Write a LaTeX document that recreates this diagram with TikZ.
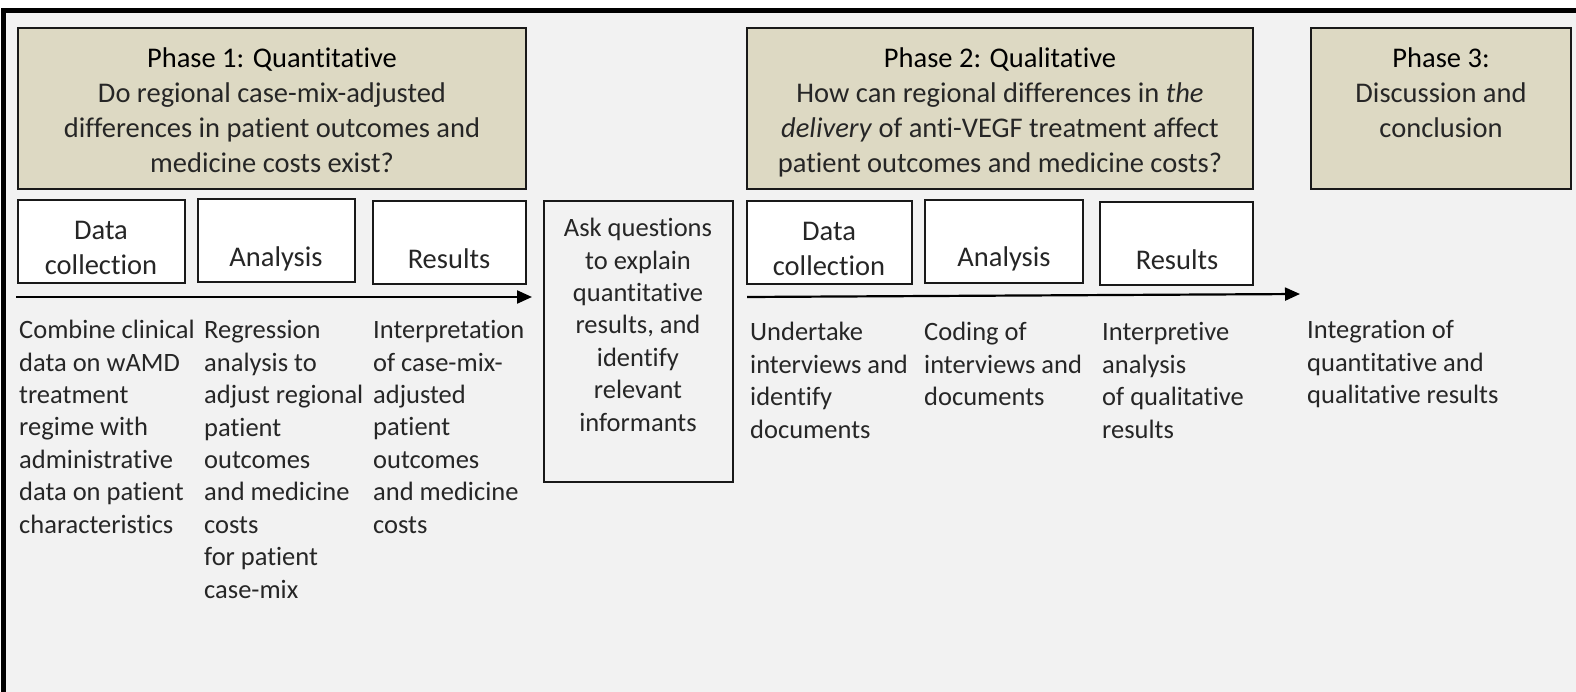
\documentclass[tikz,border=0pt]{standalone}
\usepackage{fontspec}
\setmainfont{Carlito}[Ligatures={NoCommon,NoContextual}]
\usetikzlibrary{arrows.meta,positioning}
\definecolor{paper}{HTML}{F2F2F2}
\definecolor{tanbox}{HTML}{DDD9C3}
\colorlet{myink}{black!85}
\newcommand\bodysize{\fontsize{26.5}{32.4}\selectfont}
\newcommand\headsize{\fontsize{28.5}{35}\selectfont}

\begin{document}
\begin{tikzpicture}[
    x=1pt, y=-1pt,
    box/.style 2 args={anchor=north west, inner sep=0, outer sep=0,
      minimum width=#1, minimum height=#2, line width=1.8pt, draw=black!90},
    phase/.style 2 args={box={#1}{#2}, fill=tanbox},
    stepbox/.style 2 args={box={#1}{#2}, fill=white},
    % multi-line texts sit on the baseline of their last line
    head/.style={anchor=base, align=center, inner sep=0, font=\headsize, text=black},
    note/.style={anchor=base west, align=left, inner sep=0, font=\bodysize, text=myink},
    flow/.style={line width=2.2pt, -{Triangle[length=15pt,width=13pt]}},
  ]

  % ------------------------------------------------------------------ frame
  \clip (0,0) rectangle (1576,692);
  \fill[white] (0,0) rectangle (1576,692);
  \draw[line width=5pt, fill=paper] (3.7,10.5) rectangle (1610,730);

  % ------------------------------------------------------------------ phase boxes
  \node[phase={508}{161}] (p1) at (18,28) {};
  \node[phase={506}{161}] (p2) at (747,28) {};
  \node[phase={260}{161}] (p3) at (1311,28) {};

  \node[head] (p1-txt) at (272,173) {Phase 1: Quantitative\\
    \color{myink}Do regional case-mix-adjusted\\
    \color{myink}differences in patient outcomes and\\
    \color{myink}medicine costs exist?};
  \node[head] (p2-txt) at (1000,173) {Phase 2: Qualitative\\
    \color{myink}How can regional differences in \textit{the}\\
    \color{myink}\textit{delivery} of anti-VEGF treatment affect\\
    \color{myink}patient outcomes and medicine costs?};
  \node[head] (p3-txt) at (1441,138) {Phase 3:\\
    \color{myink}Discussion and\\
    \color{myink}conclusion};

  % ------------------------------------------------------------------ step boxes
  \node[stepbox={167}{83}] (dc1) at (18,200) {};
  \node[stepbox={157}{83}] (an1) at (198,199) {};
  \node[stepbox={153}{83}] (re1) at (373,201) {};
  \node[box={189}{281}]    (ask) at (544,201) {};
  \node[stepbox={165}{83}] (dc2) at (747,201) {};
  \node[stepbox={158}{83}] (an2) at (925,200) {};
  \node[stepbox={153}{83}] (re2) at (1100,202) {};

  \node[head, text=myink] (dc1-txt) at (101,275) {Data\\collection};
  \node[head, text=myink] (an1-txt) at (276,267) {Analysis};
  \node[head, text=myink] (re1-txt) at (449,269) {Results};
  \node[head, text=myink] (dc2-txt) at (829,276) {Data\\collection};
  \node[head, text=myink] (an2-txt) at (1004,267) {Analysis};
  \node[head, text=myink] (re2-txt) at (1177,270) {Results};

  \node[note, anchor=base, align=center] (ask-txt) at (638,431)
    {Ask questions\\to explain\\quantitative\\results, and\\identify\\relevant\\informants};

  % ------------------------------------------------------------------ timelines
  \coordinate (a1-start) at (16,297);
  \coordinate (a1-end)   at (532,297);
  \coordinate (a2-start) at (747,297);
  \coordinate (a2-end)   at (1300,294);
  \draw[flow] (a1-start) -- (a1-end);
  \draw[flow] (a2-start) -- (a2-end);

  % ------------------------------------------------------------------ notes
  \node[note] (n-dc1) at (19,533)
    {Combine clinical\\data on wAMD\\treatment\\regime with\\administrative\\data on patient\\characteristics};
  \node[note] (n-an1) at (204,598)
    {Regression\\analysis to\\adjust regional\\patient\\outcomes\\and medicine\\costs\\for patient\\case-mix};
  \node[note] (n-re1) at (373,533)
    {Interpretation\\of case-mix-\\adjusted\\patient\\outcomes\\and medicine\\costs};
  \node[note] (n-dc2) at (750,438)
    {Undertake\\interviews and\\identify\\documents};
  \node[note] (n-an2) at (924,405.5)
    {Coding of\\interviews and\\documents};
  \node[note] (n-re2) at (1102,438)
    {Interpretive\\analysis\\of qualitative\\results};
  \node[note] (n-p3) at (1307,403.5)
    {Integration of\\quantitative and\\qualitative results};

\end{tikzpicture}
\end{document}
